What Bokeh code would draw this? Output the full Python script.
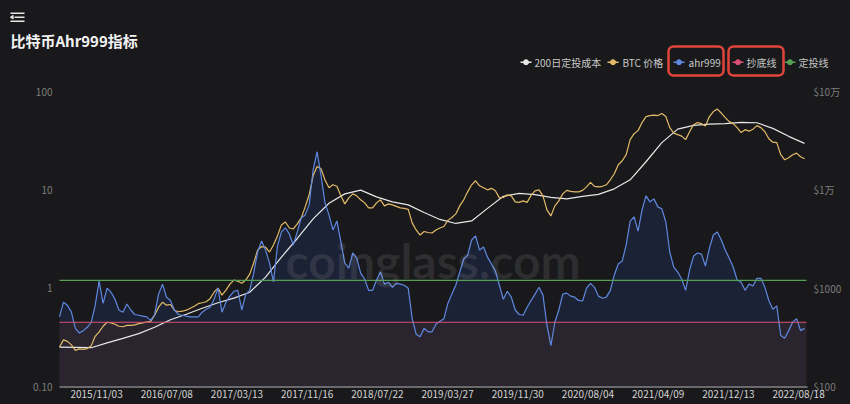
import pandas as pd
from bokeh.plotting import figure
from bokeh.models import Range1d, LogScale, LinearScale, Label, BoxAnnotation
from bokeh.embed import file_html
from bokeh.resources import INLINE
from bokeh.core.properties import value

FONT = "Noto Sans CJK SC"
BG = "#19191b"

# ---------------- data ----------------
title_text = "比特币Ahr999指标"
legend_labels = ["200日定投成本", "BTC 价格", "ahr999", "抄底线", "定投线"]
watermark = "coinglass.com"

start_date = "2015-06-25"
step_days = 14
cost_step_days = 56

tick_dates = ["2015-11-03", "2016-07-08", "2017-03-13", "2017-11-16", "2018-07-22",
              "2019-03-27", "2019-11-30", "2020-08-04", "2021-04-09", "2021-12-13",
              "2022-08-18"]
left_ticks = [0.1, 1, 10, 100]
left_tick_labels = ["0.10", "1", "10", "100"]
right_ticks = [100, 1000, 10000, 100000]
right_tick_labels = ["$100", "$1000", "$1万", "$10万"]

bottom_line = 0.45   # 抄底线
dca_line = 1.2       # 定投线

ahr999 = [
    0.51, 0.72, 0.67, 0.57, 0.39, 0.35, 0.37, 0.40, 0.45, 0.67,
    1.18, 0.70, 1.00, 0.91, 0.77, 0.60, 0.57, 0.69, 0.60, 0.54,
    0.53, 0.52, 0.51, 0.47, 0.54, 0.87, 1.10, 0.81, 0.75, 0.60,
    0.54, 0.53, 0.52, 0.51, 0.51, 0.51, 0.57, 0.61, 0.64, 0.77,
    1.00, 0.57, 0.72, 0.83, 0.93, 0.95, 0.60, 0.87, 0.95, 1.42,
    2.33, 3.02, 2.44, 1.80, 1.16, 2.68, 3.73, 4.10, 3.56, 2.75,
    3.73, 5.18, 5.56, 7.03, 16.0, 24.4, 13.9, 7.37, 5.56, 3.91,
    4.83, 2.95, 1.80, 1.60, 2.28, 2.02, 1.42, 1.24, 0.95, 0.95,
    1.21, 1.46, 1.10, 1.15, 1.02, 1.12, 1.10, 1.07, 1.00, 0.49,
    0.34, 0.32, 0.39, 0.36, 0.36, 0.43, 0.46, 0.49, 0.70, 0.87,
    1.07, 1.46, 1.98, 2.17, 3.09, 3.40, 2.44, 2.62, 2.07, 1.76,
    1.49, 1.07, 0.77, 0.93, 0.81, 0.60, 0.54, 0.53, 0.64, 0.75,
    0.87, 1.02, 0.85, 0.42, 0.26, 0.45, 0.60, 0.87, 0.89, 0.83,
    0.81, 0.75, 0.74, 1.00, 1.12, 1.02, 0.83, 0.79, 0.81, 0.95,
    1.36, 1.76, 1.89, 2.75, 4.80, 5.30, 3.80, 6.25, 8.69, 7.55,
    8.09, 6.71, 6.40, 4.71, 2.33, 1.64, 1.46, 1.24, 0.95, 1.53,
    2.12, 2.28, 2.22, 1.68, 2.56, 3.47, 3.73, 3.09, 2.44, 2.02,
    1.64, 1.21, 1.15, 0.95, 1.10, 1.05, 1.26, 1.26, 1.02, 0.75,
    0.61, 0.66, 0.33, 0.31, 0.37, 0.45, 0.49, 0.37, 0.39,
]

btc_price = [
    252, 298, 288, 265, 233, 241, 239, 243, 259, 324,
    360, 410, 450, 444, 429, 410, 405, 419, 419, 424,
    436, 444, 453, 460, 530, 640, 720, 671, 682, 597,
    576, 583, 597, 625, 655, 695, 711, 728, 782, 910,
    1000, 849, 954, 1099, 1208, 1178, 1124, 1208, 1390, 1800,
    2440, 2650, 2620, 2330, 2750, 3400, 4400, 4710, 4090, 4000,
    4500, 5180, 6710, 8900, 13900, 17300, 16400, 12600, 10500, 11250,
    10860, 8690, 7200, 8290, 9100, 8690, 7910, 7370, 6550, 6550,
    7370, 7910, 6870, 7200, 7030, 6790, 6550, 6480, 6320, 4610,
    3910, 3470, 3770, 3680, 3640, 3910, 4090, 4240, 4890, 5240,
    5690, 6870, 7910, 9540, 11250, 12360, 10990, 10480, 10000, 10360,
    9770, 8290, 8380, 8890, 8690, 7550, 7460, 7720, 7460, 8790,
    9770, 10000, 8690, 6250, 5430, 6870, 7720, 9100, 9880, 9660,
    9540, 9540, 9880, 10730, 11930, 10860, 10730, 10860, 11250, 12650,
    14560, 18000, 19770, 22770, 32400, 37250, 40000, 48300, 55600, 56900,
    57600, 56900, 59700, 55600, 42900, 37700, 36400, 35200, 32400, 39000,
    46000, 48300, 47100, 44500, 55600, 62500, 66300, 60400, 54300, 49400,
    47100, 42900, 38200, 40900, 39500, 41400, 45000, 42900, 39000, 33100,
    30500, 30200, 22770, 20200, 21200, 22770, 23600, 21700, 20700,
]

cost_200d = [
    252, 250, 248, 278, 309, 345, 400, 477, 543, 625,
    711, 791, 910, 1295, 2070, 3200, 5060, 7310, 9100, 9930,
    8490, 7550, 7030, 5890, 5000, 4550, 4830, 6480, 8590, 9210,
    8930, 8380, 8090, 8590, 8990, 10240, 12650, 19300, 30200, 41400,
    45300, 46600, 47100, 48600, 48100, 42200, 35000, 29700,
]

dates = pd.date_range(start_date, periods=len(ahr999), freq=f"{step_days}D")
cost_dates = pd.date_range(start_date, periods=len(cost_200d), freq=f"{cost_step_days}D")

C_COST = "#e6e6e6"
C_BTC = "#e3bb68"
C_AHR = "#5f88e0"
C_BOTTOM = "#dc5274"
C_DCA = "#56a056"
legend_colors = [C_COST, C_BTC, C_AHR, C_BOTTOM, C_DCA]

# ---------------- layout (page pixels) ----------------
W, H = 850, 404
FL, FT, FR, FB = 59, 91, 806, 386          # chart area edges in page pixels

x_start = dates[0]
x_end = dates[-1] + pd.Timedelta(days=7)
ms0 = x_start.value / 1e6
ms1 = x_end.value / 1e6
mpp = (ms1 - ms0) / (FR - FL)               # ms per pixel
dpp = 3.0 / (FB - FT)                       # log10 decades per pixel

p = figure(width=W, height=H, x_axis_location=None, y_axis_location=None, y_axis_type="log",
           x_range=Range1d(ms0 - FL * mpp, ms1 + (W - FR) * mpp),
           y_range=Range1d(left_ticks[0] * 10 ** (-(H - FB) * dpp),
                           left_ticks[-1] * 10 ** (FT * dpp)),
           output_backend="svg", toolbar_location=None, min_border=0,
           background_fill_color=BG, border_fill_color=BG, outline_line_color=None)
p.extra_y_ranges = {
    "price": Range1d(right_ticks[0] * 10 ** (-(H - FB) * dpp), right_ticks[-1] * 10 ** (FT * dpp)),
    "px": Range1d(H, 0),
}
p.extra_y_scales = {"price": LogScale(), "px": LinearScale()}
p.extra_x_ranges = {"px": Range1d(0, W)}
p.extra_x_scales = {"px": LinearScale()}
p.grid.visible = False


def box(x0, x1, y0, y1, **kw):
    p.add_layout(BoxAnnotation(left=x0, right=x1, top=H - y0, bottom=H - y1,
                               left_units="screen", right_units="screen",
                               top_units="screen", bottom_units="screen", **kw))


PX = dict(x_range_name="px", y_range_name="px")

# ---------------- header: icon, title, legend ----------------
p.segment(x0=[10, 14, 10], y0=[12.7, 16.7, 20.7], x1=[24, 24, 24], y1=[12.7, 16.7, 20.7],
          line_color="#e6e6e6", line_width=1.6, **PX)
p.patch(x=[9.8, 12.6, 12.6], y=[16.7, 14.9, 18.5], fill_color="#e6e6e6",
        line_color="#e6e6e6", **PX)

p.text(x=[10], y=[39.5], text=[title_text], text_font=value(FONT), text_font_size="15px",
       text_font_style="bold", text_color="#f2f2f2", text_baseline="middle", **PX)

icon_x0 = [520, 607, 673, 732, 784]
text_x = [534, 622, 688, 746, 798]
ly = 61.7
p.segment(x0=icon_x0, y0=[ly] * 5, x1=[x + 11 for x in icon_x0], y1=[ly] * 5,
          line_color=legend_colors, line_width=1.6, **PX)
p.scatter(x=[x + 5.5 for x in icon_x0], y=[ly] * 5, size=5, color=legend_colors, **PX)
p.text(x=text_x, y=[ly] * 5, text=legend_labels, text_font=value(FONT),
       text_font_size="10px", text_color="#c8c8c8", text_baseline="middle", **PX)
for (l, r) in [(668, 723), (728, 783)]:
    box(l, r, 46, 75, fill_color=None, fill_alpha=0, line_color="#e0453c", line_alpha=1,
        line_width=2.5, border_radius=5)

# ---------------- chart ----------------
n = len(ahr999)
p.varea(x=dates, y1=[left_ticks[0]] * n, y2=ahr999, fill_color="#1c2235", fill_alpha=1)
p.quad(left=[x_start], right=[x_end], bottom=[left_ticks[0]], top=[bottom_line],
       fill_color="#29242d", line_color=None)

p.add_layout(Label(x=285, y=H - 260, x_units="screen", y_units="screen", text=watermark,
                   text_font="Lato", text_font_size="48px", text_font_style="bold",
                   text_color="#ffffff", text_alpha=0.09, text_baseline="alphabetic"))

p.line(cost_dates, cost_200d, y_range_name="price", line_color=C_COST, line_width=1.2)
p.line(dates, btc_price, y_range_name="price", line_color=C_BTC, line_width=1.2)
p.line(dates, ahr999, line_color=C_AHR, line_width=1.2)

p.segment(x0=[x_start, x_start], x1=[x_end, x_end], y0=[dca_line, bottom_line],
          y1=[dca_line, bottom_line], line_color=[C_DCA, C_BOTTOM], line_width=1.2)

# ---------------- axes (drawn as text) ----------------
p.segment(x0=[FL], x1=[FR + 1], y0=[FB + 0.5], y1=[FB + 0.5], line_color="#6a6a6a",
          line_width=1.8, **PX)

p.text(x=[FL - 7] * len(left_ticks), y=left_ticks, text=left_tick_labels,
       x_range_name="px", text_font=value(FONT), text_font_size="10px",
       text_color="#7c7c7c", text_align="right", text_baseline="middle")
p.text(x=[FR + 7] * len(right_ticks), y=right_ticks, text=right_tick_labels,
       x_range_name="px", y_range_name="price", text_font=value(FONT),
       text_font_size="10px", text_color="#7c7c7c", text_align="left",
       text_baseline="middle")
p.text(x=pd.to_datetime(tick_dates), y=[393] * len(tick_dates),
       text=[d.replace("-", "/") for d in tick_dates], y_range_name="px",
       text_font=value(FONT), text_font_size="10px", text_color="#d4d4d4",
       text_align="center", text_baseline="middle")

html = file_html(p, INLINE, title="比特币Ahr999指标")
html = html.replace("<head>", "<head><style>html,body{background:#19191b;}</style>", 1)
with open("out.html", "w", encoding="utf-8") as f:
    f.write(html)
